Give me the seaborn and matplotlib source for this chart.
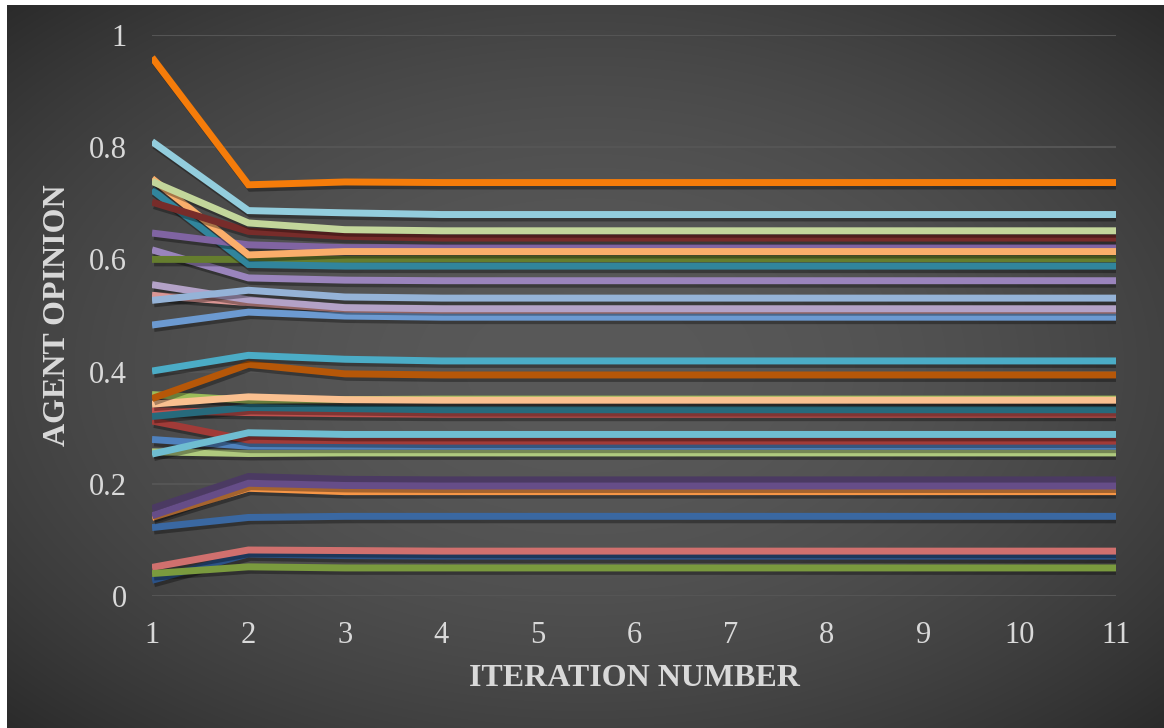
import numpy as np
import pandas as pd
import matplotlib
matplotlib.use("Agg")
import matplotlib.pyplot as plt
import matplotlib.patheffects as pe
import seaborn as sns

sns.set_theme(style="dark")
plt.rcParams["font.family"] = ["Liberation Serif", "DejaVu Serif"]

iterations = [1, 2, 3, 4, 5, 6, 7, 8, 9, 10, 11]

# Opinion trajectories of each agent (drawing order: first drawn at the bottom)
a01 = [0.028, 0.075, 0.072, 0.071, 0.071, 0.071, 0.071, 0.071, 0.071, 0.071, 0.071]
a02 = [0.051, 0.082, 0.081, 0.080, 0.080, 0.080, 0.080, 0.080, 0.080, 0.080, 0.080]
a03 = [0.040, 0.052, 0.050, 0.050, 0.050, 0.050, 0.050, 0.050, 0.050, 0.050, 0.050]
a04 = [0.122, 0.140, 0.142, 0.142, 0.142, 0.142, 0.142, 0.142, 0.142, 0.142, 0.142]
a05 = [0.140, 0.192, 0.186, 0.186, 0.186, 0.186, 0.186, 0.186, 0.186, 0.186, 0.186]
a06 = [0.156, 0.213, 0.208, 0.207, 0.207, 0.207, 0.207, 0.207, 0.207, 0.207, 0.207]
a07 = [0.143, 0.201, 0.197, 0.196, 0.196, 0.196, 0.196, 0.196, 0.196, 0.196, 0.196]
a08 = [0.257, 0.254, 0.255, 0.255, 0.255, 0.255, 0.255, 0.255, 0.255, 0.255, 0.255]
a09 = [0.279, 0.267, 0.267, 0.267, 0.267, 0.267, 0.267, 0.267, 0.267, 0.267, 0.267]
a10 = [0.312, 0.278, 0.277, 0.276, 0.276, 0.276, 0.276, 0.276, 0.276, 0.276, 0.276]
a11 = [0.253, 0.291, 0.288, 0.288, 0.288, 0.288, 0.288, 0.288, 0.288, 0.288, 0.288]
a12 = [0.330, 0.327, 0.325, 0.324, 0.324, 0.324, 0.324, 0.324, 0.324, 0.324, 0.324]
a13 = [0.320, 0.336, 0.334, 0.332, 0.332, 0.332, 0.332, 0.332, 0.332, 0.332, 0.332]
a14 = [0.359, 0.349, 0.350, 0.351, 0.351, 0.351, 0.351, 0.351, 0.351, 0.351, 0.351]
a15 = [0.342, 0.355, 0.350, 0.349, 0.349, 0.349, 0.349, 0.349, 0.349, 0.349, 0.349]
a16 = [0.352, 0.413, 0.396, 0.394, 0.394, 0.394, 0.394, 0.394, 0.394, 0.394, 0.394]
a17 = [0.401, 0.429, 0.422, 0.419, 0.419, 0.419, 0.419, 0.419, 0.419, 0.419, 0.419]
a18 = [0.536, 0.523, 0.511, 0.507, 0.507, 0.507, 0.507, 0.507, 0.507, 0.507, 0.507]
a19 = [0.483, 0.506, 0.499, 0.497, 0.497, 0.497, 0.497, 0.497, 0.497, 0.497, 0.497]
a20 = [0.555, 0.528, 0.514, 0.512, 0.512, 0.512, 0.512, 0.512, 0.512, 0.512, 0.512]
a21 = [0.527, 0.545, 0.533, 0.531, 0.531, 0.531, 0.531, 0.531, 0.531, 0.531, 0.531]
a22 = [0.617, 0.567, 0.563, 0.562, 0.562, 0.562, 0.562, 0.562, 0.562, 0.562, 0.562]
a23 = [0.600, 0.600, 0.600, 0.601, 0.601, 0.601, 0.601, 0.601, 0.601, 0.601, 0.601]
a24 = [0.724, 0.591, 0.588, 0.588, 0.588, 0.588, 0.588, 0.588, 0.588, 0.588, 0.588]
a25 = [0.647, 0.626, 0.621, 0.621, 0.621, 0.621, 0.621, 0.621, 0.621, 0.621, 0.621]
a26 = [0.744, 0.608, 0.614, 0.614, 0.614, 0.614, 0.614, 0.614, 0.614, 0.614, 0.614]
a27 = [0.702, 0.650, 0.641, 0.638, 0.638, 0.638, 0.638, 0.638, 0.638, 0.638, 0.638]
a28 = [0.739, 0.665, 0.653, 0.651, 0.651, 0.651, 0.651, 0.651, 0.651, 0.651, 0.651]
a29 = [0.810, 0.687, 0.683, 0.680, 0.680, 0.680, 0.680, 0.680, 0.680, 0.680, 0.680]
a30 = [0.960, 0.733, 0.738, 0.737, 0.737, 0.737, 0.737, 0.737, 0.737, 0.737, 0.737]

agents = [a01, a02, a03, a04, a05, a06, a07, a08, a09, a10,
          a11, a12, a13, a14, a15, a16, a17, a18, a19, a20,
          a21, a22, a23, a24, a25, a26, a27, a28, a29, a30]

colors = ["#2B5287", "#D0706E", "#7A9A3E", "#3A68A2", "#F79646",
          "#4B3A62", "#664D88", "#AFCA7E", "#4F81BD", "#A13B38",
          "#6FBDD1", "#C0504D", "#276A7C", "#9BBB59", "#FAC090",
          "#B65708", "#4BACC6", "#DA9694", "#6C9AD1", "#B3A2C7",
          "#95B3D7", "#9A84BC", "#657D2E", "#31859C", "#8064A2",
          "#FAAE6B", "#772C2A", "#C3D69B", "#93CDDD", "#F57C0A"]

names = [f"Agent {i + 1}" for i in range(len(agents))]
df = pd.DataFrame({
    "iteration": np.tile(iterations, len(agents)),
    "opinion": np.concatenate(agents),
    "agent": np.repeat(names, len(iterations)),
})

W, H = 1164, 728
fig = plt.figure(figsize=(W / 100, H / 100), dpi=100)
fig.patch.set_facecolor("white")

# Dark radial-gradient chart background
bg = fig.add_axes([7 / W, 0, 1 - 7 / W, (H - 5) / H])
gx, gy = np.meshgrid(np.linspace(-1, 1, 600), np.linspace(-1, 1, 380))
r2 = gx ** 2 + gy ** 2
g = np.clip(89 - 23 * r2, 40, 90) / 255.0
bg.imshow(np.dstack([g, g, g]), aspect="auto", extent=[0, 1, 0, 1],
          interpolation="bilinear")
bg.set_axis_off()

ax = fig.add_axes([152 / W, (H - 596) / H, (1116 - 152) / W, (596 - 35) / H])
ax.set_facecolor("none")

sns.lineplot(data=df, x="iteration", y="opinion", hue="agent",
             palette=colors, linewidth=5, legend=False, ax=ax,
             estimator=None, sort=False)

for line in ax.lines:
    line.set_solid_capstyle("butt")
    line.set_solid_joinstyle("miter")
    line.set_path_effects([
        pe.SimpleLineShadow(offset=(1.5, -2.5), shadow_color="black", alpha=0.33),
        pe.Normal(),
    ])

ax.set_xlim(1, 11)
ax.set_ylim(0, 1)
ax.set_xticks(iterations)
ax.set_yticks([0, 0.2, 0.4, 0.6, 0.8, 1])
ax.set_yticklabels(["0", "0.2", "0.4", "0.6", "0.8", "1"])
ax.grid(axis="y", color="#555555", linewidth=1.5)
ax.grid(axis="x", visible=False)
ax.set_axisbelow(True)
for s in ax.spines.values():
    s.set_visible(False)

ax.tick_params(axis="both", length=0, colors="#D9D9D9", labelsize=22)
ax.tick_params(axis="x", pad=18)
ax.tick_params(axis="y", pad=18)

ax.set_xlabel("ITERATION NUMBER", fontsize=23, fontweight="bold", color="#D9D9D9")
ax.set_ylabel("AGENT OPINION", fontsize=23, fontweight="bold", color="#D9D9D9")
ax.xaxis.label.set_va("center")
ax.yaxis.label.set_va("center")
ax.xaxis.set_label_coords(0.5, -(679 - 596) / (596 - 35))
ax.yaxis.set_label_coords(-(152 - 58) / (1116 - 152), 0.5)

fig.savefig("out.png", dpi=100, facecolor=fig.get_facecolor())
